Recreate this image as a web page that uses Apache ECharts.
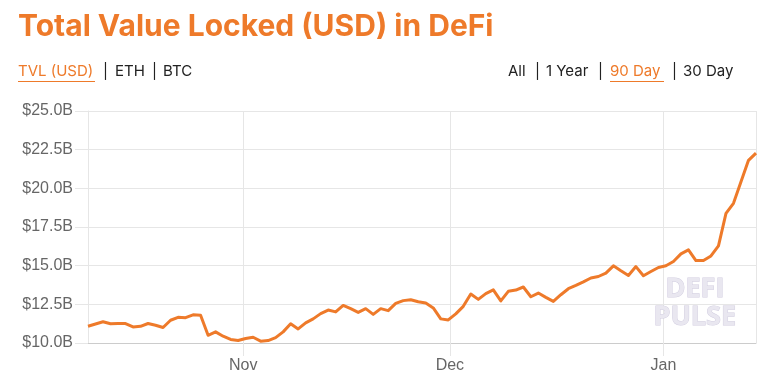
<!DOCTYPE html>
<html>
<head>
<meta charset="utf-8">
<script src="https://cdn.jsdelivr.net/npm/echarts@6/dist/echarts.min.js"></script>
<style>
  html, body { margin: 0; padding: 0; background: #ffffff; }
  #chart { width: 775px; height: 385px; }
</style>
</head>
<body>
<div id="chart"></div>
<script>
// ---- data ----
const startDate = '2020-10-09T10:48:00';   // first sample
const endDate   = '2021-01-14T10:48:00';   // last sample
const tvlBillions = [
  11.08, 11.23, 11.37, 11.24, 11.26, 11.26, 11.04, 11.08, 11.26, 11.15,
  11.00, 11.47, 11.66, 11.64, 11.82, 11.79, 10.50, 10.72, 10.44, 10.23,
  10.16, 10.29, 10.37, 10.12, 10.16, 10.35, 10.72, 11.24, 10.91, 11.30,
  11.56, 11.90, 12.13, 12.01, 12.43, 12.22, 11.98, 12.22, 11.85, 12.22,
  12.09, 12.56, 12.74, 12.80, 12.67, 12.59, 12.27, 11.56, 11.49, 11.88,
  12.37, 13.17, 12.82, 13.19, 13.44, 12.72, 13.34, 13.42, 13.62, 12.99,
  13.23, 12.95, 12.69, 13.12, 13.51, 13.72, 13.95, 14.20, 14.30, 14.52,
  14.99, 14.67, 14.37, 14.94, 14.35, 14.62, 14.88, 14.99, 15.27, 15.76,
  16.02, 15.33, 15.33, 15.63, 16.28, 18.38, 19.03, 20.42, 21.81, 22.28
];
const monthNames = ['Jan','Feb','Mar','Apr','May','Jun','Jul','Aug','Sep','Oct','Nov','Dec'];
const yMin = 10, yMax = 25, yStep = 2.5;
const leftLinks = ['TVL (USD)', '|', 'ETH', '|', 'BTC'];
const rightLinks = ['All', '|', '1 Year', '|', '90 Day', '|', '30 Day'];

// ---- build ----
const t0 = new Date(startDate).getTime();
const t1 = new Date(endDate).getTime();
const step = (t1 - t0) / (tvlBillions.length - 1);
const seriesData = tvlBillions.map((v, i) => [t0 + i * step, v]);

const ORANGE = '#EE7A2A';
const GRID = '#e6e6e6';
const TXT = '#222222';

const chart = echarts.init(document.getElementById('chart'), null, { renderer: 'canvas' });

const leftX = [18, 103, 115, 152, 163];
const rightX = [508, 535, 546, 598, 610, 672, 683];
const linkFont = { fontFamily: 'Inter', fontSize: 15 };

const graphics = [];
leftLinks.forEach((t, i) => {
  graphics.push({ type: 'text', left: leftX[i], top: 64,
    style: Object.assign({ text: t, fill: i === 0 ? ORANGE : TXT }, linkFont) });
});
rightLinks.forEach((t, i) => {
  graphics.push({ type: 'text', left: rightX[i], top: 64,
    style: Object.assign({ text: t, fill: i === 4 ? ORANGE : TXT }, linkFont) });
});
// underlines for active links
graphics.push({ type: 'rect', left: 18, top: 81, shape: { width: 77, height: 1 }, style: { fill: ORANGE } });
graphics.push({ type: 'rect', left: 610, top: 81, shape: { width: 54, height: 1 }, style: { fill: ORANGE } });
// watermark
const wmStyle = { fill: '#e9e7f0', stroke: '#d2cee0', lineWidth: 1, font: 'bold 27px "Open Sans"',
  shadowColor: 'rgba(190,185,205,0.6)', shadowOffsetX: 1, shadowOffsetY: 1, shadowBlur: 0 };
graphics.push({ type: 'text', left: 665, top: 275, z: 1, style: Object.assign({ text: 'DEFI' }, wmStyle) });
graphics.push({ type: 'text', left: 653, top: 303, z: 1, style: Object.assign({ text: 'PULSE' }, wmStyle) });

chart.setOption({
  animation: false,
  backgroundColor: '#ffffff',
  title: {
    text: 'Total Value Locked (USD) in DeFi',
    left: 13, top: 7,
    textStyle: { fontFamily: 'Inter', fontWeight: 'bold', fontSize: 30, color: ORANGE }
  },
  graphic: graphics,
  grid: { left: 88, right: 19, top: 111, bottom: 42, containLabel: false },
  xAxis: {
    type: 'time',
    min: t0,
    max: t1,
    splitNumber: 3,
    axisLine: { lineStyle: { color: '#cccccc', width: 1 } },
    axisTick: { show: true, length: 13, lineStyle: { color: GRID } },
    splitLine: { show: true, lineStyle: { color: GRID } },
    axisLabel: {
      showMinLabel: false, showMaxLabel: false,
      margin: 15, color: '#666666', fontFamily: 'Liberation Sans', fontSize: 16,
      formatter: v => monthNames[new Date(v).getMonth()]
    }
  },
  yAxis: {
    type: 'value',
    min: yMin, max: yMax, interval: yStep,
    axisLine: { show: true, lineStyle: { color: GRID } },
    axisTick: { show: true, length: 13, lineStyle: { color: GRID } },
    splitLine: { show: true, lineStyle: { color: GRID } },
    axisLabel: {
      margin: 15, color: '#666666', fontFamily: 'Liberation Sans', fontSize: 16,
      formatter: v => '$' + v.toFixed(1) + 'B'
    }
  },
  series: [{
    type: 'line',
    data: seriesData,
    showSymbol: false,
    z: 3,
    lineStyle: { color: ORANGE, width: 3, join: 'round' },
    itemStyle: { color: ORANGE }
  }]
});
</script>
</body>
</html>
